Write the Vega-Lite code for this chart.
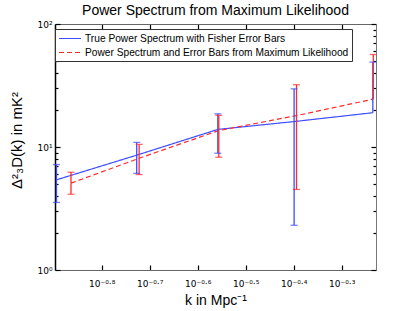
{
  "$schema": "https://vega.github.io/schema/vega-lite/v6.json",
  "width": 321,
  "height": 246,
  "autosize": "none",
  "padding": {"left": 55, "top": 24, "right": 39, "bottom": 41},
  "background": "white",
  "title": {"text": "Power Spectrum from Maximum Likelihood", "fontSize": 14, "fontWeight": "normal", "font": "Liberation Sans", "color": "black", "offset": 2},
  "config": {
    "view": {"stroke": null},
    "font": "Liberation Sans",
    "axis": {"grid": false, "domainColor": "#555", "tickColor": "#000", "tickWidth": 1.2, "labelColor": "black", "titleColor": "black", "labelFont": "DejaVu Sans", "labelFontSize": 9, "titleFont": "Liberation Sans", "titleFontSize": 14, "titleFontWeight": "normal", "labelOverlap": false, "labelFlush": false}
  },
  "datasets": {
    "pts": [
      {"series": "True Power Spectrum with Fisher Error Bars", "k": 0.1276, "v": 5.41, "hi": 7.2, "lo": 3.54},
      {"series": "True Power Spectrum with Fisher Error Bars", "k": 0.1875, "v": 8.58, "hi": 10.9, "lo": 6.1},
      {"series": "True Power Spectrum with Fisher Error Bars", "k": 0.2767, "v": 13.9, "hi": 18.6, "lo": 8.9},
      {"series": "True Power Spectrum with Fisher Error Bars", "k": 0.399, "v": 16.1, "hi": 29.7, "lo": 2.31},
      {"series": "True Power Spectrum with Fisher Error Bars", "k": 0.5821, "v": 19.0, "hi": 49, "lo": null},
      {"series": "Power Spectrum and Error Bars from Maximum Likelihood", "k": 0.1368, "v": 5.08, "hi": 6.23, "lo": 4.13},
      {"series": "Power Spectrum and Error Bars from Maximum Likelihood", "k": 0.1897, "v": 8.1, "hi": 10.5, "lo": 5.97},
      {"series": "Power Spectrum and Error Bars from Maximum Likelihood", "k": 0.278, "v": 13.6, "hi": 18.1, "lo": 8.26},
      {"series": "Power Spectrum and Error Bars from Maximum Likelihood", "k": 0.4036, "v": 18.0, "hi": 32.1, "lo": 4.52},
      {"series": "Power Spectrum and Error Bars from Maximum Likelihood", "k": 0.5834, "v": 24.5, "hi": 56.5, "lo": null}
    ]
  },
  "data": {"name": "pts"},
  "layer": [
    {
      "mark": {"type": "line", "strokeWidth": 1.2, "clip": true},
      "encoding": {
        "x": {"field": "k", "type": "quantitative", "scale": {"type": "log", "domain": [0.1267, 0.591], "nice": false},
          "axis": {"orient": "bottom", "title": "k in Mpc⁻¹", "titlePadding": 5, "values": [0.158489, 0.199526, 0.251189, 0.316228, 0.398107, 0.501187], "tickSize": -5, "labelPadding": 14, "domainColor": "#666",
            "labelExpr": "round(log(datum.value)/LN10*10) == -8 ? '10⁻⁰·⁸' : round(log(datum.value)/LN10*10) == -7 ? '10⁻⁰·⁷' : round(log(datum.value)/LN10*10) == -6 ? '10⁻⁰·⁶' : round(log(datum.value)/LN10*10) == -5 ? '10⁻⁰·⁵' : round(log(datum.value)/LN10*10) == -4 ? '10⁻⁰·⁴' : '10⁻⁰·³'"}},
        "y": {"field": "v", "type": "quantitative", "scale": {"type": "log", "domain": [1, 100], "nice": false},
          "axis": {"orient": "left", "title": "Δ²₃D(k) in mK²", "titleFontSize": 15, "titlePadding": 12, "titleY": 116, "values": [1, 2, 3, 4, 5, 6, 7, 8, 9, 10, 20, 30, 40, 50, 60, 70, 80, 90, 100], "domainColor": "black", "domainWidth": 1.5,
            "tickSize": {"condition": {"test": "datum.value == 1 || datum.value == 10 || datum.value == 100", "value": -5}, "value": -3},
            "labelPadding": 8,
            "labelExpr": "datum.value == 1 ? '10⁰' : datum.value == 10 ? '10¹' : datum.value == 100 ? '10²' : ''"}},
        "color": {"field": "series", "type": "nominal", "scale": {"domain": ["True Power Spectrum with Fisher Error Bars", "Power Spectrum and Error Bars from Maximum Likelihood"], "range": ["#3d4dff", "#ff2b2b"]},
          "legend": {"title": null, "orient": "none", "legendX": 0, "legendY": 5, "strokeColor": "#333", "fillColor": "white", "padding": 3, "symbolType": "M-1,0H3", "symbolSize": 121, "symbolStrokeWidth": 1.2, "labelFontSize": 10.2, "labelFont": "Liberation Sans", "labelColor": "black", "labelOffset": 14, "rowPadding": 2, "labelLimit": 400}},
        "strokeDash": {"field": "series", "type": "nominal", "scale": {"domain": ["True Power Spectrum with Fisher Error Bars", "Power Spectrum and Error Bars from Maximum Likelihood"], "range": [[1, 0], [5, 3]]},
          "legend": {"title": null, "orient": "none", "legendX": 0, "legendY": 5, "strokeColor": "#333", "fillColor": "white", "padding": 3, "symbolType": "M-1,0H3", "symbolSize": 121, "symbolStrokeWidth": 1.2, "labelFontSize": 10.2, "labelFont": "Liberation Sans", "labelColor": "black", "labelOffset": 14, "rowPadding": 2, "labelLimit": 400}}
      }
    },
    {
      "mark": {"type": "rule", "strokeWidth": 1.3},
      "encoding": {
        "x": {"field": "k", "type": "quantitative",
          "axis": {"orient": "top", "title": null, "labels": false, "values": [0.158489, 0.199526, 0.251189, 0.316228, 0.398107, 0.501187], "tickSize": -5, "domainColor": "#666"}},
        "y": {"field": "v", "type": "quantitative",
          "axis": {"orient": "right", "title": null, "labels": false, "values": [1, 2, 3, 4, 5, 6, 7, 8, 9, 10, 20, 30, 40, 50, 60, 70, 80, 90, 100], "domainColor": "#777",
            "tickSize": {"condition": {"test": "datum.value == 1 || datum.value == 10 || datum.value == 100", "value": -5}, "value": -3}}},
        "y2": {"field": "hi"},
        "color": {"field": "series", "type": "nominal", "legend": null}
      }
    },
    {
      "mark": {"type": "rule", "strokeWidth": 1.3},
      "encoding": {
        "x": {"field": "k", "type": "quantitative", "axis": null},
        "y": {"field": "lo", "type": "quantitative", "axis": null},
        "y2": {"field": "v"},
        "color": {"field": "series", "type": "nominal", "legend": null}
      }
    },
    {
      "mark": {"type": "tick", "orient": "horizontal", "size": 7, "thickness": 1.3},
      "encoding": {
        "x": {"field": "k", "type": "quantitative", "axis": null},
        "y": {"field": "hi", "type": "quantitative", "axis": null},
        "color": {"field": "series", "type": "nominal", "legend": null}
      }
    },
    {
      "mark": {"type": "tick", "orient": "horizontal", "size": 7, "thickness": 1.3},
      "encoding": {
        "x": {"field": "k", "type": "quantitative", "axis": null},
        "y": {"field": "lo", "type": "quantitative", "axis": null},
        "color": {"field": "series", "type": "nominal", "legend": null}
      }
    }
  ],
  "resolve": {"scale": {"x": "shared", "y": "shared", "color": "shared"}, "axis": {"x": "independent", "y": "independent"}}
}
